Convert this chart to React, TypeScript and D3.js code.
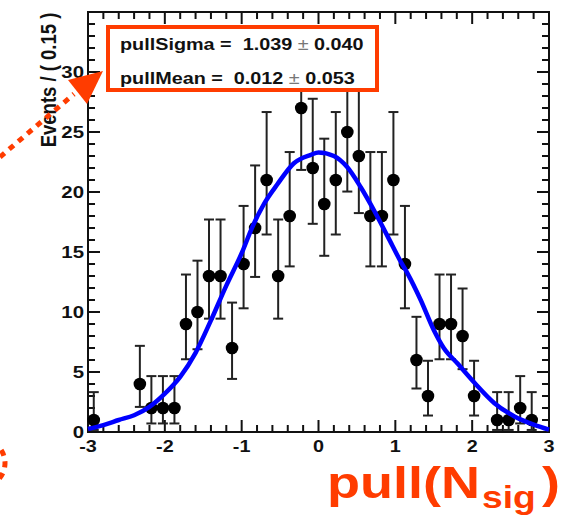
import React, { useRef, useEffect } from 'react';
import * as d3 from 'd3';

// pull distribution, bins of 0.15 (empty bins are not drawn)
const binCenters = [
  -2.925, -2.325, -2.175, -2.025, -1.875, -1.725, -1.575, -1.425, -1.275, -1.125,
  -0.975, -0.825, -0.675, -0.525, -0.375, -0.225, -0.075, 0.075, 0.225, 0.375,
  0.525, 0.675, 0.825, 0.975, 1.125, 1.275, 1.425, 1.575, 1.725, 1.875,
  2.025, 2.325, 2.475, 2.625, 2.775,
];
const counts = [
  1, 4, 2, 2, 2, 9, 10, 13, 13, 7,
  14, 17, 21, 13, 18, 27, 22, 19, 21, 25,
  23, 18, 18, 21, 14, 6, 3, 9, 9, 8,
  3, 1, 1, 2, 1,
];

// gaussian fit curve
const fitX = [-3, -2.8, -2.6, -2.4, -2.2, -2.0, -1.8, -1.6, -1.4, -1.2, -1.0, -0.86, -0.71, -0.54, -0.32, -0.1, 0.0, 0.2, 0.37, 0.55, 0.72, 0.9, 1.07, 1.16, 1.33, 1.5, 1.63, 1.81, 2.03, 2.29, 2.55, 2.81, 3.0];
const fitY = [0.25, 0.58, 1.0, 1.4, 2.1, 3.2, 4.6, 6.6, 9.3, 12.2, 14.9, 17.1, 19.0, 20.6, 22.4, 23.1, 23.3, 23.0, 22.1, 20.4, 18.5, 16.3, 14.2, 13.2, 11.0, 8.5, 7.0, 5.7, 4.1, 2.4, 1.3, 0.6, 0.2];

const xTickLabels = [-3, -2, -1, 0, 1, 2, 3];
const yTickLabels = [0, 5, 10, 15, 20, 25, 30];
const fitParams = [
  { name: 'pullSigma', value: '1.039', error: '0.040' },
  { name: 'pullMean', value: '0.012', error: '0.053' },
];

const RED = '#ff3c00';
const FONT = '"Liberation Sans", Arial, Helvetica, sans-serif';

// Poisson (Gehrels) interval for a count
function poissonLow(n: number) {
  if (n <= 0) return 0;
  return n * Math.pow(1 - 1 / (9 * n) - 1 / (3 * Math.sqrt(n)), 3);
}
function poissonHigh(n: number) {
  return n + 1 + Math.sqrt(n + 0.75);
}

const App: React.FC = () => {
  const svgRef = useRef<SVGSVGElement | null>(null);
  const width = 568;
  const height = 519;

  useEffect(() => {
    if (!svgRef.current) return;
    const svg = d3.select(svgRef.current);
    svg.selectAll('*').remove();

    const frame = { left: 88, right: 549, top: 12, bottom: 432 };

    const x = d3.scaleLinear().domain([-3, 3]).range([frame.left, frame.right]);
    const y = d3.scaleLinear().domain([0, 35]).range([frame.bottom, frame.top]);

    // horizontally stretched text, like the original screenshot
    const stretched = (
      tx: number, ty: number, str: string, size: number,
      anchor = 'start', fill = '#111', weight = 'bold',
    ) => svg.append('text')
      .attr('transform', `translate(${tx},${ty}) scale(1.2,1)`)
      .attr('text-anchor', anchor)
      .attr('font-family', FONT)
      .attr('font-weight', weight)
      .attr('font-size', size)
      .attr('fill', fill)
      .style('white-space', 'pre')
      .text(str);

    // Frame
    svg.append('rect')
      .attr('x', frame.left)
      .attr('y', frame.top)
      .attr('width', frame.right - frame.left)
      .attr('height', frame.bottom - frame.top)
      .attr('fill', 'none')
      .attr('stroke', '#111')
      .attr('stroke-width', 2);

    // Ticks (inside, mirrored on all four sides)
    const ticks = svg.append('g').attr('stroke', '#111').attr('stroke-width', 2);
    const xMinor = d3.range(-3, 3.001, 0.2);
    xMinor.forEach(v => {
      const major = Math.abs(v - Math.round(v)) < 1e-6;
      const len = major ? 12 : 7;
      ticks.append('line')
        .attr('x1', x(v)).attr('x2', x(v))
        .attr('y1', frame.bottom).attr('y2', frame.bottom - len);
      ticks.append('line')
        .attr('x1', x(v)).attr('x2', x(v))
        .attr('y1', frame.top).attr('y2', frame.top + len);
    });
    d3.range(0, 36, 1).forEach(v => {
      const len = v % 5 === 0 ? 12 : 7;
      ticks.append('line')
        .attr('x1', frame.left).attr('x2', frame.left + len)
        .attr('y1', y(v)).attr('y2', y(v));
      ticks.append('line')
        .attr('x1', frame.right).attr('x2', frame.right - len)
        .attr('y1', y(v)).attr('y2', y(v));
    });

    // Tick labels
    yTickLabels.forEach(v => stretched(84, y(v) + 6, String(v), 17, 'end'));
    xTickLabels.forEach(v => stretched(x(v), 452, String(v), 16.5, 'middle'));

    // Y title
    svg.append('text')
      .attr('transform', 'translate(56,80) rotate(-90) scale(1,1.2)')
      .attr('text-anchor', 'middle')
      .attr('font-family', FONT)
      .attr('font-weight', 'bold')
      .attr('font-size', 18.5)
      .attr('fill', '#111')
      .style('white-space', 'pre')
      .text('Events / ( 0.15 )');

    // Data points with poisson error bars
    const pts = binCenters.map((c, i) => ({ x: c, n: counts[i] }));
    const bars = svg.append('g').attr('stroke', '#222').attr('stroke-width', 2);
    pts.forEach(d => {
      const lo = y(poissonLow(d.n));
      const hi = y(poissonHigh(d.n));
      bars.append('line')
        .attr('x1', x(d.x)).attr('x2', x(d.x))
        .attr('y1', lo).attr('y2', hi);
      bars.append('line')
        .attr('x1', x(d.x) - 5).attr('x2', x(d.x) + 5)
        .attr('y1', lo).attr('y2', lo);
      bars.append('line')
        .attr('x1', x(d.x) - 5).attr('x2', x(d.x) + 5)
        .attr('y1', hi).attr('y2', hi);
    });
    svg.append('g')
      .selectAll('circle')
      .data(pts)
      .enter()
      .append('circle')
      .attr('cx', d => x(d.x))
      .attr('cy', d => y(d.n))
      .attr('r', 6.3)
      .attr('fill', '#000');

    // Fit curve
    const line = d3.line<number>()
      .x((d, i) => x(fitX[i]))
      .y(d => y(d))
      .curve(d3.curveMonotoneX);
    svg.append('path')
      .datum(fitY)
      .attr('fill', 'none')
      .attr('stroke', '#0000ff')
      .attr('stroke-width', 4.5)
      .attr('d', line);

    // Parameter box
    svg.append('rect')
      .attr('x', 108)
      .attr('y', 27)
      .attr('width', 269)
      .attr('height', 63)
      .attr('fill', '#fff')
      .attr('stroke', RED)
      .attr('stroke-width', 4);
    fitParams.forEach((p, i) => {
      const t = stretched(120, 50 + i * 33.5, '', 16.5);
      t.append('tspan').text(`${p.name} =  ${p.value} `);
      t.append('tspan').attr('font-weight', 'normal').attr('fill', '#777').text('±');
      t.append('tspan').text(` ${p.error}`);
    });

    // Arrow pointing at the box
    svg.append('line')
      .attr('x1', 0).attr('y1', 157)
      .attr('x2', 74).attr('y2', 94)
      .attr('stroke', RED)
      .attr('stroke-width', 5)
      .attr('stroke-dasharray', '6,6');
    svg.append('path')
      .attr('d', 'M68,80 L103,71 L87,104 Z')
      .attr('fill', RED);

    // dotted arc at bottom left
    svg.append('path')
      .attr('d', d3.arc()({ innerRadius: 24, outerRadius: 24, startAngle: 0, endAngle: Math.PI }) as string)
      .attr('transform', 'translate(-19,463)')
      .attr('fill', 'none')
      .attr('stroke', RED)
      .attr('stroke-width', 5)
      .attr('stroke-dasharray', '6,6');

    // x title
    stretched(327, 498, 'pull(N', 45, 'start', RED);
    stretched(482, 508, 'sig', 31, 'start', RED);
    stretched(542, 498, ')', 45, 'start', RED);
  }, []);

  return (
    <svg
      ref={svgRef}
      width={width}
      height={height}
      style={{ position: 'absolute', left: 0, top: 0, background: '#fff' }}
    />
  );
};

export default App;
